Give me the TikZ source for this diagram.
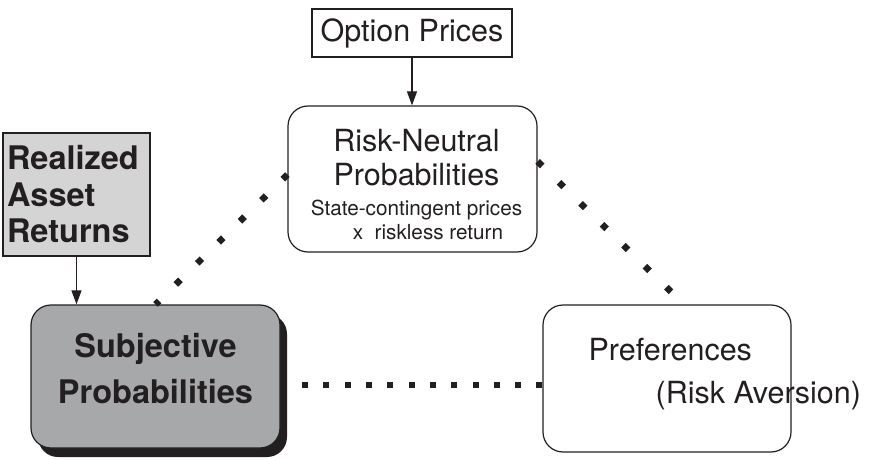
\documentclass[tikz,border=0pt]{standalone}
\usepackage{fontspec}
\setmainfont{TeX Gyre Heros}
\usetikzlibrary{arrows.meta, calc, shadows}
\definecolor{ink}{HTML}{231F20}
\definecolor{lightgrey}{HTML}{D4D4D4}
\definecolor{midgrey}{HTML}{A7A8AA}

\begin{document}
\begin{tikzpicture}[x=1pt, y=-1pt, line width=1.2pt, ink,
    plain/.style={draw=ink, inner sep=0pt, align=center},
    roundbox/.style={plain, rounded corners=20pt},
    big/.style={font=\fontsize{30.5}{34}\selectfont},
    bigbold/.style={font=\fontsize{32.5}{46}\selectfont\bfseries},
    dots/.style={line width=6.5pt, dash pattern=on 6.5pt off 23.5pt},
    flatdots/.style={line width=6pt, dash pattern=on 6pt off 15.3pt},
    link/.style={-{Triangle[length=14pt, width=10pt]}, line width=1.1pt}]
  \useasboundingbox (0,0) rectangle (871,460);
  \node[plain, big, minimum width=200pt, minimum height=48pt] (opt) at (412,33) {Option Prices};
  \node[roundbox, minimum width=249pt, minimum height=146pt] (risk) at (412.5,179) {};
  \node[big, align=center, inner sep=0pt] (risktext) at (416.5,185)
    {Risk-Neutral\\Probabilities\\[-4pt]{\fontsize{20.7}{22}\selectfont State-contingent prices}\\[-10pt]%
     {\fontsize{20.7}{22}\selectfont\hspace*{23pt}x\ \ riskless return}};
  \node[plain, fill=lightgrey, align=left, text width=139pt, inner xsep=4pt, minimum height=123pt,
    font=\fontsize{32.5}{36.5}\selectfont\bfseries] (real) at (76.5,194.5) {Realized\\Asset\\Returns};
  \node[roundbox, bigbold, fill=midgrey, minimum width=249pt, minimum height=143pt, text depth=16pt,
    drop shadow={shadow xshift=7pt, shadow yshift=-9pt, fill=ink, opacity=1}] (subj) at (155.5,376.5)
    {Subjective\\Probabilities};
  \node[roundbox, minimum width=248pt, minimum height=147pt] (pref) at (667,378.5) {};
  \node[big, anchor=base west, inner sep=0pt] (preftext) at (588,360) {Preferences};
  \node[big, anchor=base west, inner sep=0pt] (aversion) at (655,403) {(Risk Aversion)};
  \draw[link] (opt.south) -- (opt.south |- risk.north);
  \draw[link] (real.south) -- (real.south |- subj.north);
  \draw[dots] (risk.178) -- (subj.north);
  \draw[dots] (risk.8) -- ($(pref.north)+(17,0)$);
  \draw[flatdots] (pref.183) -- ($(pref.183 -| subj.east)+(7,0)$);
\end{tikzpicture}
\end{document}
